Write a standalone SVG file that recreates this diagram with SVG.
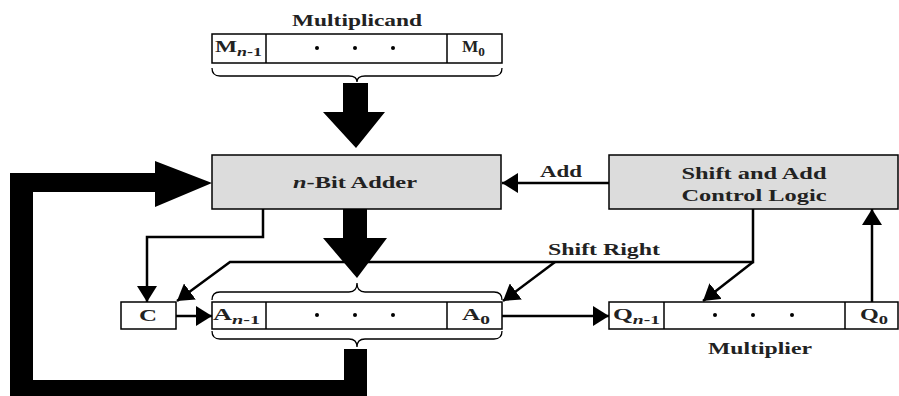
<svg xmlns="http://www.w3.org/2000/svg" width="899" height="396" viewBox="0 0 899 396">
<style>
.box{fill:#fff;stroke:#000;stroke-width:1.5}
.gbox{fill:#dcdcdc;stroke:#000;stroke-width:1.5}
.t{font-family:"Liberation Serif","Times New Roman",serif;font-weight:bold;font-size:17px;fill:#222}
.r{font-family:"Liberation Serif","Times New Roman",serif;font-weight:bold;font-size:17px;fill:#222}
.c{text-anchor:middle}
.w{fill:none;stroke:#000;stroke-width:2.5}
.br{fill:none;stroke:#000;stroke-width:1.3}
.thick{fill:#000}
.sub{font-size:13px}
</style>
<defs>
<marker id="ah" viewBox="0 0 16 20" refX="16" refY="10" markerWidth="16" markerHeight="20" markerUnits="userSpaceOnUse" orient="auto">
<path d="M0,0 L16,10 L0,20 z" fill="#000"/>
</marker>
</defs>
<rect width="899" height="396" fill="#fff"/>

<g id="multiplicand">
<text class="t c" x="357" y="26" textLength="130" lengthAdjust="spacingAndGlyphs">Multiplicand</text>
<rect class="box" x="212" y="34" width="290" height="29"/>
<line x1="266" y1="34" x2="266" y2="63" stroke="#000" stroke-width="1.5"/>
<line x1="447" y1="34" x2="447" y2="63" stroke="#000" stroke-width="1.5"/>
<text class="r" x="215" y="52" textLength="47" lengthAdjust="spacingAndGlyphs">M<tspan class="sub" font-style="italic" dy="4">n</tspan><tspan class="sub">-1</tspan></text>
<circle cx="317" cy="48" r="2"/><circle cx="355" cy="48" r="2"/><circle cx="393" cy="48" r="2"/>
<text class="r" x="462" y="52" textLength="23" lengthAdjust="spacingAndGlyphs">M<tspan class="sub" dy="4">0</tspan></text>
<path class="br" d="M212,68 Q212,76 220,76 L349,76 Q357,76 357,82 Q357,76 365,76 L494,76 Q502,76 502,68"/>
</g>

<g id="adder">
<rect class="gbox" x="212" y="155" width="289" height="54"/>
<text class="t c" x="355" y="188" textLength="124" lengthAdjust="spacingAndGlyphs"><tspan font-style="italic">n</tspan>-Bit Adder</text>
</g>

<g id="control">
<rect class="gbox" x="609" y="155" width="289" height="54"/>
<text class="t c" x="754" y="179" textLength="145" lengthAdjust="spacingAndGlyphs">Shift and Add</text>
<text class="t c" x="754" y="201" textLength="145" lengthAdjust="spacingAndGlyphs">Control Logic</text>
</g>

<g id="c-reg">
<rect class="box" x="121" y="302" width="55" height="27"/>
<text class="r c" x="148" y="321" textLength="18" lengthAdjust="spacingAndGlyphs">C</text>
</g>

<g id="a-reg">
<rect class="box" x="212" y="302" width="290" height="27"/>
<line x1="266" y1="302" x2="266" y2="329" stroke="#000" stroke-width="1.5"/>
<line x1="447" y1="302" x2="447" y2="329" stroke="#000" stroke-width="1.5"/>
<text class="r" x="213" y="320" textLength="47" lengthAdjust="spacingAndGlyphs">A<tspan class="sub" font-style="italic" dy="4">n</tspan><tspan class="sub">-1</tspan></text>
<circle cx="317" cy="315" r="2"/><circle cx="355" cy="315" r="2"/><circle cx="393" cy="315" r="2"/>
<text class="r" x="462" y="320" textLength="28" lengthAdjust="spacingAndGlyphs">A<tspan class="sub" dy="4">0</tspan></text>
<path class="br" d="M212,300 Q212,292 220,292 L349,292 Q357,292 357,283 Q357,292 365,292 L494,292 Q502,292 502,300"/>
<path class="br" d="M212,331 Q212,339 220,339 L349,339 Q357,339 357,347 Q357,339 365,339 L494,339 Q502,339 502,331"/>
</g>

<g id="q-reg">
<rect class="box" x="609" y="302" width="289" height="27"/>
<line x1="664" y1="302" x2="664" y2="329" stroke="#000" stroke-width="1.5"/>
<line x1="845" y1="302" x2="845" y2="329" stroke="#000" stroke-width="1.5"/>
<text class="r" x="613" y="320" textLength="47" lengthAdjust="spacingAndGlyphs">Q<tspan class="sub" font-style="italic" dy="4">n</tspan><tspan class="sub">-1</tspan></text>
<circle cx="715" cy="315" r="2"/><circle cx="753" cy="315" r="2"/><circle cx="792" cy="315" r="2"/>
<text class="r" x="860" y="320" textLength="28" lengthAdjust="spacingAndGlyphs">Q<tspan class="sub" dy="4">0</tspan></text>
<text class="t c" x="760" y="354" textLength="104" lengthAdjust="spacingAndGlyphs">Multiplier</text>
</g>

<g id="connectors">
<polygon class="thick" points="343,83 368,83 368,112 385,112 356,148 323,112 343,112"/>
<polygon class="thick" points="343,209 367,209 367,238 387,238 357,278 323,238 343,238"/>
<polygon class="thick" points="10,173 155,173 155,161 212,183 155,207 155,192 33,192 33,380 344,380 344,349 367,349 367,396 10,396"/>
<line class="w" x1="609" y1="183" x2="502" y2="183" marker-end="url(#ah)"/>
<text class="t c" x="561" y="177" textLength="42" lengthAdjust="spacingAndGlyphs">Add</text>
<polyline class="w" points="263,209 263,237 147,237 147,302" marker-end="url(#ah)"/>
<line class="w" x1="176" y1="316" x2="212" y2="316" marker-end="url(#ah)"/>
<line class="w" x1="502" y1="316" x2="609" y2="316" marker-end="url(#ah)"/>
<line class="w" x1="872" y1="302" x2="872" y2="209" marker-end="url(#ah)"/>
<polyline class="w" points="753,209 753,262 230,262 177,301" marker-end="url(#ah)"/>
<line class="w" x1="555" y1="262" x2="503" y2="301" marker-end="url(#ah)"/>
<line class="w" x1="753" y1="262" x2="703" y2="301" marker-end="url(#ah)"/>
<text class="t c" x="604" y="255" textLength="112" lengthAdjust="spacingAndGlyphs">Shift Right</text>
</g>
</svg>
